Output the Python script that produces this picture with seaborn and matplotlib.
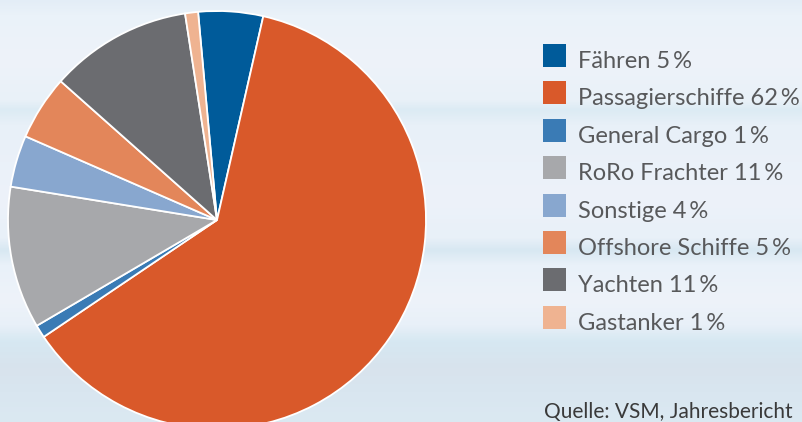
import numpy as np
import matplotlib
matplotlib.use("Agg")
import matplotlib.pyplot as plt
import seaborn as sns
from matplotlib.colors import to_rgb
from matplotlib.patches import Rectangle

# Anteile der Schiffstypen am Auftragseingang (in %)
categories = ["Fähren", "Passagierschiffe", "General Cargo", "RoRo Frachter",
              "Sonstige", "Offshore Schiffe", "Yachten", "Gastanker"]
shares = [5, 62, 1, 11, 4, 5, 11, 1]
colors = ["#005b9a", "#d9592a", "#3a7bb5", "#a7a8ab",
          "#88a7cf", "#e3865a", "#6b6c70", "#efb391"]
source = "Quelle: VSM, Jahresbericht"

sns.set_theme(style="white")
plt.rcParams["font.family"] = ["Lato", "DejaVu Sans"]
palette = sns.color_palette(colors)

W, H = 803, 422
fig = plt.figure(figsize=(W / 100, H / 100), dpi=100)
ax = fig.add_axes([0, 0, 1, 1])

# soft watery backdrop: vertical colour profile with light horizontal bands
bg_stops = [
    (0, "#e3edf6"), (15, "#eaf2f9"), (60, "#eef3fa"), (100, "#e9f1f8"),
    (110, "#dcebf4"), (125, "#e8f0f8"), (200, "#edf2fa"), (238, "#e8f0f8"),
    (250, "#d8e8f2"), (265, "#e9f1f9"), (300, "#eef3fa"), (325, "#e8f0f8"),
    (342, "#d6e8f2"), (368, "#d8e3ed"), (392, "#d9e6f0"), (422, "#dbe9f2"),
]
pos = np.array([p for p, _ in bg_stops], dtype=float)
vals = np.array([to_rgb(c) for _, c in bg_stops])
rows = np.arange(H) + 0.5
img = np.stack([np.interp(rows, pos, vals[:, k]) for k in range(3)], axis=-1)
img = img[:, None, :]
ax.imshow(img, extent=(0, W, 0, H), origin="upper", aspect="auto",
          interpolation="bilinear", zorder=0)

# pie, clockwise in legend order
ax.pie(shares, colors=palette, startangle=95.2, counterclock=False,
       center=(217, H - 220), radius=209, frame=True,
       wedgeprops=dict(edgecolor="white", linewidth=1.3, zorder=2))

# legend: colour squares with labels
for i, (cat, val, col) in enumerate(zip(categories, shares, palette)):
    top = 44 + 37.4 * i
    ax.add_patch(Rectangle((543, H - top - 23), 23, 23, facecolor=col,
                           edgecolor="none", zorder=3))
    ax.text(578, H - top - 24, f"{cat} {val}\u2009%", fontsize=17,
            color="#58595b", va="baseline", ha="left", zorder=3)

ax.text(544, H - 418, source, fontsize=15, color="#3a3a3a",
        va="baseline", ha="left", zorder=3)

ax.set_xlim(0, W)
ax.set_ylim(0, H)
ax.set_aspect("auto")
ax.axis("off")

fig.savefig("out.png", dpi=100)
